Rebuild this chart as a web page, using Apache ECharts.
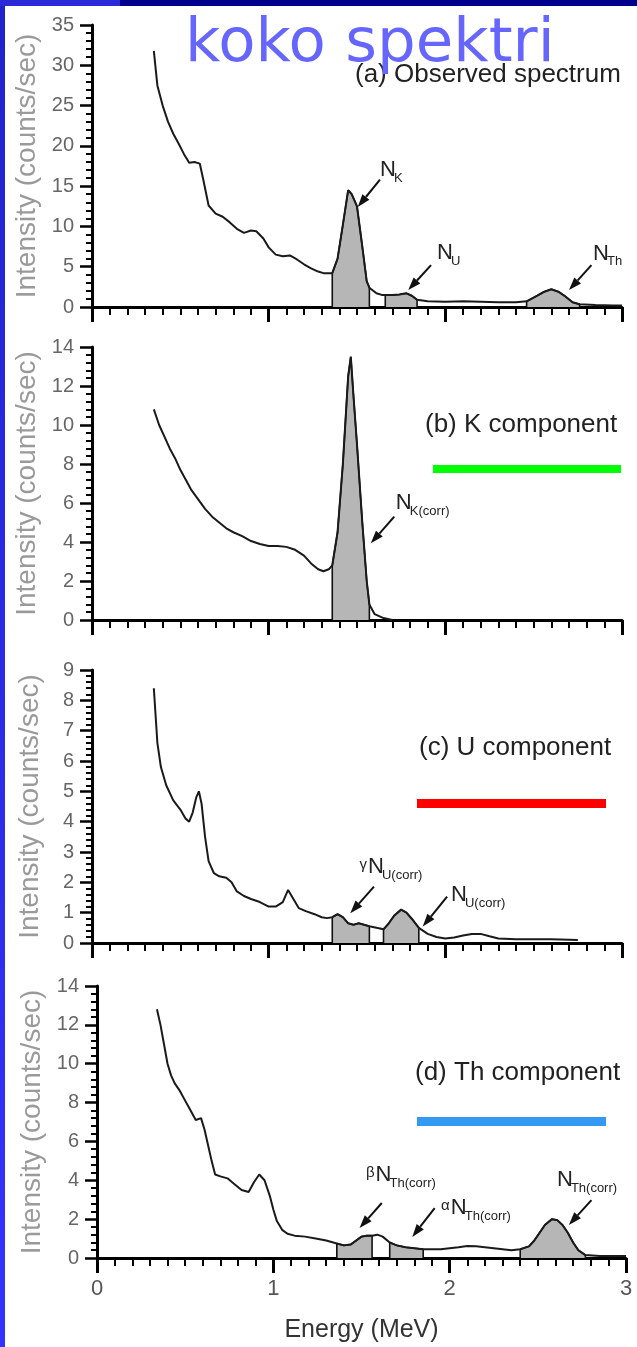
<!DOCTYPE html>
<html><head><meta charset="utf-8">
<script src="https://cdn.jsdelivr.net/npm/echarts@6/dist/echarts.min.js"></script>
<style>html,body{margin:0;padding:0;background:#fff}#c{width:637px;height:1347px}</style>
</head><body><div id="c"></div>
<script>
// ---------- DATA ----------
const energyA = [0.35,0.37,0.40,0.43,0.46,0.49,0.52,0.55,0.58,0.61,0.63,0.66,0.70,0.74,0.78,0.82,0.86,0.90,0.93,0.97,1.00,1.04,1.08,1.12,1.16,1.20,1.24,1.28,1.31,1.36,1.39,1.42,1.45,1.47,1.50,1.53,1.555,1.57,1.61,1.64,1.66,1.70,1.74,1.78,1.81,1.84,1.90,2.00,2.10,2.20,2.30,2.40,2.46,2.52,2.56,2.60,2.64,2.68,2.72,2.76,2.85,2.95,3.00];
const countsA = [31.8,27.5,25.0,23.0,21.5,20.3,19.0,17.9,18.0,17.8,15.8,12.6,11.6,11.2,10.5,9.7,9.2,9.5,9.4,8.5,7.4,6.5,6.3,6.4,5.9,5.3,4.8,4.4,4.2,4.2,6.0,10.2,14.5,14.0,12.5,7.5,3.2,2.4,1.7,1.5,1.5,1.5,1.55,1.7,1.4,0.9,0.7,0.65,0.7,0.65,0.6,0.6,0.7,1.4,1.9,2.2,1.9,1.3,0.6,0.35,0.25,0.2,0.2];
const regionsA = [[1.36,1.57],[1.66,1.84],[2.46,2.76]];

const energyB = [0.35,0.38,0.41,0.44,0.47,0.50,0.53,0.56,0.60,0.64,0.68,0.72,0.76,0.80,0.85,0.90,0.95,1.00,1.05,1.10,1.15,1.20,1.24,1.28,1.31,1.34,1.36,1.39,1.42,1.45,1.465,1.48,1.50,1.53,1.555,1.57,1.60,1.65,1.70];
const countsB = [10.8,10.0,9.4,8.8,8.3,7.7,7.2,6.7,6.2,5.7,5.3,5.0,4.7,4.5,4.3,4.05,3.9,3.8,3.8,3.75,3.6,3.3,2.9,2.6,2.5,2.6,2.8,4.5,8.0,12.5,13.5,11.5,9.0,5.0,2.0,0.8,0.3,0.1,0.0];
const regionsB = [[1.36,1.57]];

const energyC = [0.35,0.36,0.37,0.39,0.42,0.46,0.50,0.53,0.55,0.57,0.59,0.605,0.62,0.64,0.66,0.69,0.72,0.76,0.79,0.82,0.86,0.90,0.95,1.00,1.04,1.08,1.11,1.14,1.17,1.21,1.26,1.30,1.33,1.36,1.39,1.42,1.45,1.48,1.51,1.54,1.57,1.61,1.65,1.68,1.71,1.75,1.78,1.81,1.85,1.90,1.95,2.00,2.05,2.10,2.15,2.20,2.25,2.30,2.40,2.50,2.60,2.75];
const countsC = [8.4,7.5,6.6,5.8,5.2,4.7,4.4,4.1,4.0,4.3,4.8,5.0,4.6,3.5,2.7,2.3,2.2,2.15,2.0,1.7,1.55,1.45,1.35,1.2,1.2,1.35,1.75,1.45,1.15,1.05,0.95,0.85,0.82,0.85,0.95,0.85,0.65,0.6,0.65,0.6,0.55,0.5,0.45,0.65,0.9,1.1,1.0,0.8,0.5,0.3,0.2,0.15,0.18,0.25,0.3,0.3,0.22,0.15,0.12,0.12,0.12,0.1];
const regionsC = [[1.36,1.57],[1.65,1.85]];

const energyD = [0.34,0.36,0.38,0.40,0.42,0.44,0.47,0.50,0.53,0.56,0.59,0.61,0.63,0.65,0.67,0.70,0.74,0.78,0.82,0.86,0.89,0.92,0.95,0.98,1.00,1.02,1.05,1.08,1.12,1.18,1.24,1.30,1.36,1.40,1.44,1.47,1.50,1.53,1.56,1.59,1.62,1.66,1.70,1.75,1.80,1.85,1.90,1.95,2.00,2.05,2.10,2.15,2.20,2.25,2.30,2.35,2.40,2.45,2.48,2.51,2.54,2.58,2.61,2.64,2.67,2.70,2.73,2.77,2.85,2.95,3.00];
const countsD = [12.8,12.0,11.0,10.0,9.4,9.0,8.6,8.1,7.6,7.1,7.2,6.6,5.8,5.0,4.3,4.2,4.1,3.8,3.5,3.4,3.9,4.3,4.0,3.2,2.5,1.9,1.45,1.25,1.15,1.1,1.0,0.9,0.75,0.65,0.7,0.9,1.1,1.15,1.15,1.2,1.1,0.8,0.65,0.55,0.5,0.45,0.45,0.45,0.5,0.55,0.62,0.6,0.55,0.5,0.45,0.4,0.45,0.6,0.9,1.3,1.7,2.0,1.95,1.7,1.3,0.8,0.4,0.15,0.1,0.1,0.1];
const regionsD = [[1.36,1.56],[1.66,1.85],[2.40,2.77]];

const yMax = [35, 14, 9, 14];
const yStep = [5, 2, 1, 2];
const xTicks = [0, 1, 2, 3];
const panelTitles = ['(a) Observed spectrum', '(b) K component', '(c) U component', '(d) Th component'];
const yAxisTitle = 'Intensity (counts/sec)';
const xAxisTitle = 'Energy (MeV)';
const mainTitle = 'koko spektri';

// annotations: [panel, tipE, tipV, tailE, tailV]
const arrows = [
  [0, 1.504, 12.4, 1.63, 15.8],
  [0, 1.79, 2.1, 1.919, 5.2],
  [0, 2.70, 2.1, 2.827, 5.2],
  [1, 1.578, 3.93, 1.711, 5.3],
  [2, 1.462, 0.98, 1.596, 1.86],
  [2, 1.872, 0.54, 2.01, 1.53],
  [3, 1.489, 1.54, 1.615, 2.83],
  [3, 1.788, 1.08, 1.915, 2.57],
  [3, 2.676, 1.7, 2.804, 2.98]
];
// labels: [panel, energy, value, prefix, subscript]
const peakLabels = [
  [0, 1.63, 17.0, '', 'K'],
  [0, 1.953, 6.7, '', 'U'],
  [0, 2.836, 6.6, '', 'Th'],
  [1, 1.72, 6.0, '', 'K(corr)'],
  [2, 1.562, 2.5, 'γ', 'U(corr)'],
  [2, 2.032, 1.58, '', 'U(corr)'],
  [3, 1.58, 4.27, 'β', 'Th(corr)'],
  [3, 2.006, 2.57, 'α', 'Th(corr)'],
  [3, 2.608, 4.0, '', 'Th(corr)']
];

// ---------- BUILD ----------
const energies = [energyA, energyB, energyC, energyD];
const counts = [countsA, countsB, countsC, countsD];
const regions = [regionsA, regionsB, regionsC, regionsD];

const NARROW = "'Liberation Sans Narrow','Liberation Sans',Arial,sans-serif";
const SANS = "'Liberation Sans',Arial,sans-serif";

const grids = [
  {left: 92, top: 25, width: 530, height: 282},
  {left: 92, top: 347, width: 530, height: 273},
  {left: 92, top: 670, width: 530, height: 273},
  {left: 97, top: 986, width: 529, height: 272}
];

function pairs(xs, ys) { return xs.map((x, i) => [x, ys[i]]); }
function regionData(xs, ys, a, b) {
  const pts = [[a, 0]];
  xs.forEach((x, i) => { if (x >= a - 1e-9 && x <= b + 1e-9) pts.push([x, ys[i]]); });
  pts.push([b, 0]);
  return pts;
}

const xAxes = [], yAxes = [], series = [];
for (let i = 0; i < 4; i++) {
  const last = i === 3;
  xAxes.push({
    type: 'value', gridIndex: i, min: xTicks[0], max: xTicks[xTicks.length - 1], interval: 1,
    axisLine: {show: true, lineStyle: {color: '#000', width: 3}},
    axisTick: {show: true, length: 15, lineStyle: {color: '#000', width: 3}},
    minorTick: {show: true, splitNumber: 10, length: 8, lineStyle: {color: '#000', width: 2}},
    splitLine: {show: false}, minorSplitLine: {show: false},
    axisLabel: {show: last, color: '#555', fontSize: 22, fontFamily: NARROW, margin: 20},
    name: last ? xAxisTitle : '', nameLocation: 'middle', nameGap: 60,
    nameTextStyle: {color: '#333', fontSize: 25, fontFamily: SANS}
  });
  yAxes.push({
    type: 'value', gridIndex: i, min: 0, max: yMax[i], interval: yStep[i],
    axisLine: {show: true, lineStyle: {color: '#000', width: 3}},
    axisTick: {show: true, length: 12, lineStyle: {color: '#000', width: 2.5}},
    minorTick: {show: true, splitNumber: 5, length: 6, lineStyle: {color: '#000', width: 2}},
    splitLine: {show: false}, minorSplitLine: {show: false},
    axisLabel: {color: '#666', fontSize: 20, fontFamily: NARROW, margin: 18},
    name: yAxisTitle, nameLocation: 'middle', nameGap: 48,
    nameTextStyle: {color: '#9a9a9a', fontSize: 28, fontFamily: SANS}
  });
  regions[i].forEach(r => {
    series.push({
      type: 'line', xAxisIndex: i, yAxisIndex: i, data: regionData(energies[i], counts[i], r[0], r[1]),
      showSymbol: false, silent: true, z: 2,
      lineStyle: {color: '#111', width: 1.6},
      areaStyle: {color: '#b6b6b6', opacity: 1}
    });
  });
  series.push({
    type: 'line', xAxisIndex: i, yAxisIndex: i, data: pairs(energies[i], counts[i]),
    showSymbol: false, silent: true, z: 3,
    lineStyle: {color: '#1a1a1a', width: 2}
  });
}

const chart = echarts.init(document.getElementById('c'), null, {renderer: 'canvas'});
chart.setOption({
  animation: false,
  backgroundColor: '#fff',
  grid: grids.map(g => Object.assign({outerBoundsMode: 'none', containLabel: false}, g)),
  xAxis: xAxes, yAxis: yAxes, series: series
});

// ---------- DECORATION / ANNOTATIONS ----------
const gfx = [];
gfx.push({type: 'rect', shape: {x: 0, y: 0, width: 5, height: 1347}, style: {fill: new echarts.graphic.LinearGradient(0, 0, 0, 1, [{offset: 0, color: '#2222cc'}, {offset: 1, color: '#3333ff'}])}, z: 50});
gfx.push({type: 'rect', shape: {x: 0, y: 0, width: 120, height: 6}, style: {fill: '#2a2ad8'}, z: 50});
gfx.push({type: 'rect', shape: {x: 120, y: 0, width: 517, height: 6}, style: {fill: '#00008c'}, z: 50});
gfx.push({type: 'text', style: {text: mainTitle, x: 185, y: 45, fill: '#6666ff', font: '61px "DejaVu Sans", sans-serif', verticalAlign: 'middle', align: 'left'}, z: 60});
const titlePos = [[355, 75], [425, 425], [419, 748], [415, 1073]];
panelTitles.forEach((t, i) => gfx.push({type: 'text', style: {text: t, x: titlePos[i][0], y: titlePos[i][1], fill: '#222', font: '26px ' + SANS, verticalAlign: 'middle', align: 'left'}, z: 40}));
const bars = [[1, 433, 465, 188, 8, '#00ff00'], [2, 417, 799, 189, 9, '#ff0000'], [3, 417, 1117, 189, 9, '#3399f3']];
bars.forEach(b => gfx.push({type: 'rect', shape: {x: b[1], y: b[2], width: b[3], height: b[4]}, style: {fill: b[5]}, z: 40}));

function px(g, e, v) { return chart.convertToPixel({gridIndex: g}, [e, v]); }
arrows.forEach(a => {
  const tip = px(a[0], a[1], a[2]), tail = px(a[0], a[3], a[4]);
  const dx = tip[0] - tail[0], dy = tip[1] - tail[1], L = Math.hypot(dx, dy);
  const ux = dx / L, uy = dy / L, nx = -uy, ny = ux;
  const bx = tip[0] - ux * 13, by = tip[1] - uy * 13;
  gfx.push({type: 'line', shape: {x1: tail[0], y1: tail[1], x2: bx, y2: by}, style: {stroke: '#111', lineWidth: 2}, z: 45});
  gfx.push({type: 'polygon', shape: {points: [tip, [bx + nx * 4.5, by + ny * 4.5], [bx - nx * 4.5, by - ny * 4.5]]}, style: {fill: '#111'}, z: 45});
});
peakLabels.forEach(l => {
  const p = px(l[0], l[1], l[2]);
  if (l[3]) gfx.push({type: 'text', style: {text: l[3], x: p[0] - 1, y: p[1] - 2, fill: '#222', font: '15px ' + SANS, verticalAlign: 'middle', align: 'right'}, z: 45});
  gfx.push({type: 'text', style: {text: 'N', x: p[0], y: p[1], fill: '#222', font: '22px ' + NARROW, verticalAlign: 'middle', align: 'left'}, z: 45});
  gfx.push({type: 'text', style: {text: l[4], x: p[0] + 14, y: p[1] + 8, fill: '#222', font: '13px ' + NARROW, verticalAlign: 'middle', align: 'left'}, z: 45});
});
chart.setOption({graphic: gfx});
</script>
</body></html>
